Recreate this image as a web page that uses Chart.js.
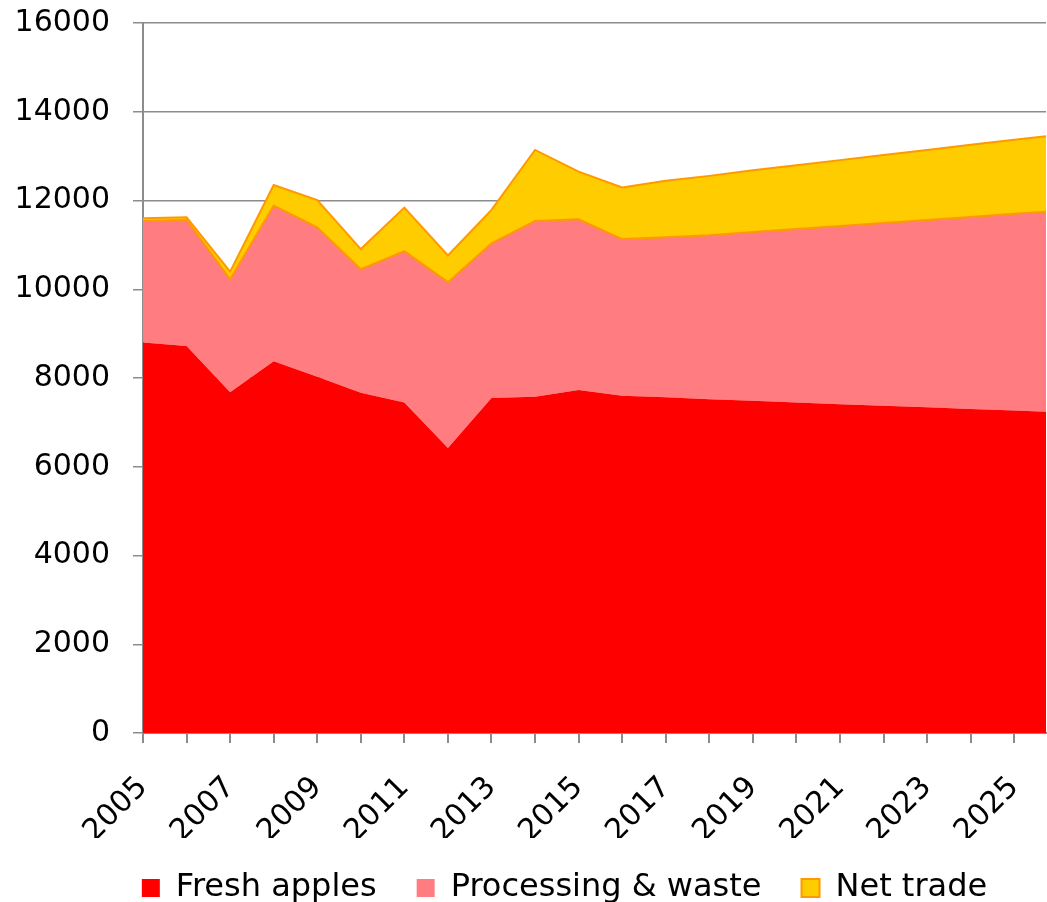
<html>
    <head>
        <title>Apple use</title>
        <script src="https://cdn.jsdelivr.net/npm/chart.js@4.4.1/dist/chart.umd.min.js"></script>
        <style>
            body { margin: 0; background: #fff; }
            #wrap { position: relative; width: 1047px; height: 902px; }
        </style>
    </head>
    <body>
        <div id="wrap">
            <canvas id="myChart"></canvas>
        </div>
    <script type="text/javascript">
    // values (thousand tonnes)
    var years = [2005, 2006, 2007, 2008, 2009, 2010, 2011, 2012, 2013, 2014, 2015,
                 2016, 2017, 2018, 2019, 2020, 2021, 2022, 2023, 2024, 2025, 2026];
    var freshApples = [8800, 8720, 7680, 8380, 8030, 7670, 7450, 6420, 7550, 7580, 7730,
                       7600, 7565, 7520, 7485, 7450, 7410, 7375, 7340, 7300, 7265, 7230];
    var processingWaste = [2740, 2840, 2545, 3505, 3365, 2780, 3410, 3740, 3485, 3960, 3845,
                           3530, 3605, 3695, 3805, 3910, 4015, 4120, 4220, 4330, 4435, 4535];
    var netTrade = [60, 60, 170, 465, 615, 455, 980, 600, 755, 1600, 1075,
                    1165, 1275, 1340, 1390, 1435, 1485, 1530, 1580, 1625, 1670, 1715];
    var yTicks = [0, 2000, 4000, 6000, 8000, 10000, 12000, 14000, 16000];

    function pts(arr) {
        return arr.map(function (v, i) { return { x: years[i], y: v }; });
    }

    var font = "'DejaVu Sans', Verdana, sans-serif";

    // the legend sits a bit right of the canvas centre in the original
    var shiftLegend = {
        id: 'shiftLegend',
        afterLayout: function (chart) {
            var lg = chart.legend;
            lg.left += 39; lg.right += 39;
            lg.top -= 6; lg.bottom -= 6;
        }
    };

    var ctx = document.getElementById("myChart").getContext('2d');
    var myChart = new Chart(ctx, {
        type: 'line',
        data: {
            datasets: [{
                label: 'Fresh apples',
                data: pts(freshApples),
                backgroundColor: '#FF0000',
                borderColor: '#FF0000',
                borderWidth: 0,
                fill: 'origin'
            }, {
                label: 'Processing & waste',
                data: pts(processingWaste),
                backgroundColor: '#FF7C80',
                borderColor: '#FF9900',
                borderWidth: 2,
                fill: '-1'
            }, {
                label: 'Net trade',
                data: pts(netTrade),
                backgroundColor: '#FFCC00',
                borderColor: '#FF9900',
                borderWidth: 2,
                fill: '-1'
            }]
        },
        plugins: [shiftLegend],
        options: {
            responsive: true,
            maintainAspectRatio: false,
            animation: false,
            elements: { point: { radius: 0 }, line: { tension: 0 } },
            layout: { padding: { left: 5, right: 1, top: 23, bottom: -18 } },
            plugins: {
                tooltip: { enabled: false },
                legend: {
                    position: 'bottom',
                    labels: {
                        font: { family: font, size: 32 },
                        color: '#000',
                        boxWidth: 18,
                        boxHeight: 18,
                        padding: 40,
                        generateLabels: function (chart) {
                            var items = Chart.defaults.plugins.legend.labels.generateLabels(chart);
                            items.forEach(function (it, i) {
                                if (i < 2) { it.lineWidth = 0; it.strokeStyle = it.fillStyle; }
                                else { it.lineWidth = 2; it.strokeStyle = '#FF9900'; }
                            });
                            return items;
                        }
                    }
                }
            },
            scales: {
                x: {
                    type: 'linear',
                    min: 2005,
                    max: 2025.73,
                    afterBuildTicks: function (scale) {
                        scale.ticks = years.filter(function (y) { return y <= scale.max; })
                                           .map(function (y) { return { value: y }; });
                    },
                    afterFit: function (scale) {
                        scale.height = 105;
                        scale.paddingRight = 0;
                    },
                    ticks: {
                        autoSkip: false,
                        maxRotation: 45,
                        minRotation: 45,
                        color: '#000',
                        padding: 27,
                        font: { family: font, size: 30 },
                        callback: function (v) { return (v % 2 === 1) ? String(v) : ''; }
                    },
                    grid: { drawOnChartArea: false, drawTicks: true, tickLength: 10, color: '#8c8c8c', lineWidth: 2 },
                    border: { color: '#8c8c8c', width: 2 }
                },
                y: {
                    stacked: true,
                    min: 0,
                    max: 16000,
                    afterBuildTicks: function (scale) {
                        scale.ticks = yTicks.map(function (v) { return { value: v }; });
                    },
                    afterFit: function (scale) {
                        scale.width = 138;
                        scale.paddingTop = 0;
                        scale.paddingBottom = 0;
                    },
                    ticks: {
                        color: '#000',
                        padding: 23,
                        font: { family: font, size: 30 },
                        callback: function (v) { return String(v); }
                    },
                    grid: { color: '#8c8c8c', lineWidth: 1.5, tickLength: 10 },
                    border: { color: '#8c8c8c', width: 2 }
                }
            }
        }
    });
    </script>
    </body>
</html>
